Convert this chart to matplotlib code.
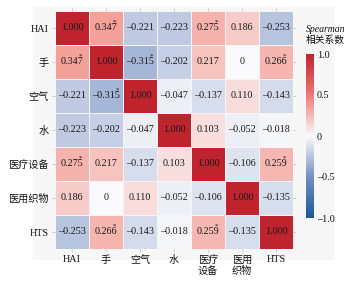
import numpy as np
import matplotlib
matplotlib.use('Agg')
import matplotlib.pyplot as plt
from matplotlib.colors import LinearSegmentedColormap
from matplotlib.patches import Rectangle

plt.rcParams['font.family'] = ['Liberation Serif', 'Noto Sans CJK SC']
plt.rcParams['axes.unicode_minus'] = False

# 变量与标签
row_labels = ['HAI', '手', '空气', '水', '医疗设备', '医用织物', 'HTS']
col_labels = ['HAI', '手', '空气', '水', '医疗\n设备', '医用\n织物', 'HTS']

# Spearman 相关系数矩阵
corr = np.array([
    [1.000, 0.347, -0.221, -0.223, 0.275, 0.186, -0.253],
    [0.347, 1.000, -0.315, -0.202, 0.217, 0.000, 0.266],
    [-0.221, -0.315, 1.000, -0.047, -0.137, 0.110, -0.143],
    [-0.223, -0.202, -0.047, 1.000, 0.103, -0.052, -0.018],
    [0.275, 0.217, -0.137, 0.103, 1.000, -0.106, 0.259],
    [0.186, 0.000, 0.110, -0.052, -0.106, 1.000, -0.135],
    [-0.253, 0.266, -0.143, -0.018, 0.259, -0.135, 1.000],
])

# 显著的变量对 (行, 列)
sig_pairs = [(0, 1), (1, 2), (0, 4), (1, 6), (4, 6)]

cbar_ticks = [-1.0, -0.5, 0, 0.5, 1.0]
cbar_ticklabels = ['\u20131.0', '\u20130.5', '0', '0.5', '1.0']

cmap = LinearSegmentedColormap.from_list('spear', [
    (0.0, (0.10, 0.35, 0.60)),
    (0.25, (0.46, 0.56, 0.77)),
    (0.35, (0.67, 0.73, 0.85)),
    (0.5, (0.98, 0.98, 0.99)),
    (0.67, (0.96, 0.64, 0.61)),
    (0.78, (0.91, 0.43, 0.42)),
    (1.0, (0.75, 0.14, 0.18)),
])

fig = plt.figure(figsize=(3.58, 2.81), dpi=100)
fig.patches.append(Rectangle((33 / 358, 1 - 259 / 281), 300 / 358, 252 / 281,
                             transform=fig.transFigure, color='#f7f7f8', zorder=-1))

ax = fig.add_axes([55 / 358, 1 - 249 / 281, 238 / 358, 238 / 281])
ax.patch.set_alpha(0)
n = len(row_labels)
im = ax.pcolormesh(np.arange(n + 1), np.arange(n + 1), corr, cmap=cmap, vmin=-1, vmax=1,
                   edgecolor='#f4f4f4', linewidth=0.5)
ax.set_xlim(0, n)
ax.set_ylim(n, 0)


def fmt(v):
    if v == 0:
        return '0'
    s = '%.3f' % abs(v)
    return ('\u2013' + s) if v < 0 else s


sig = set(sig_pairs) | set((j, i) for i, j in sig_pairs)
for i in range(n):
    for j in range(n):
        s = fmt(corr[i, j])
        ax.text(j + 0.5, i + 0.5, s, ha='center', va='center', fontsize=7.3, color='#1a1a1a')
        if (i, j) in sig:
            dx = 6.4 if corr[i, j] > 0 else 8.2
            ax.annotate('*', (j + 0.5, i + 0.5), xytext=(dx, 4.2), textcoords='offset points',
                        ha='center', va='center', fontsize=5, color='#1a1a1a')

ax.set_xticks(np.arange(n) + 0.5)
ax.set_yticks(np.arange(n) + 0.5)
ax.set_xticklabels(col_labels, fontsize=7.3, color='#111111', linespacing=1.15)
ax.set_yticklabels(row_labels, fontsize=7.3, color='#111111')
ax.tick_params(length=2.5, width=0.5, color='#bbbbbb', pad=2,
               top=True, right=True, bottom=True, left=True)
for sp in ax.spines.values():
    sp.set_visible(False)

cax = fig.add_axes([306 / 358, 1 - 218 / 281, 8 / 358, 164 / 281])
cb = fig.colorbar(im, cax=cax, ticks=cbar_ticks)
cb.ax.set_yticklabels(cbar_ticklabels, fontsize=7.3, color='#111111')
cb.ax.tick_params(length=0, pad=2)
cb.outline.set_visible(False)

fig.text(306 / 358, 1 - 29 / 281, 'Spearman', fontsize=7, style='italic', va='center', ha='left',
         color='#111111')
fig.text(306 / 358, 1 - 40 / 281, '相关系数', fontsize=7, va='center', ha='left', color='#111111')

fig.savefig('out.png', dpi=100)
